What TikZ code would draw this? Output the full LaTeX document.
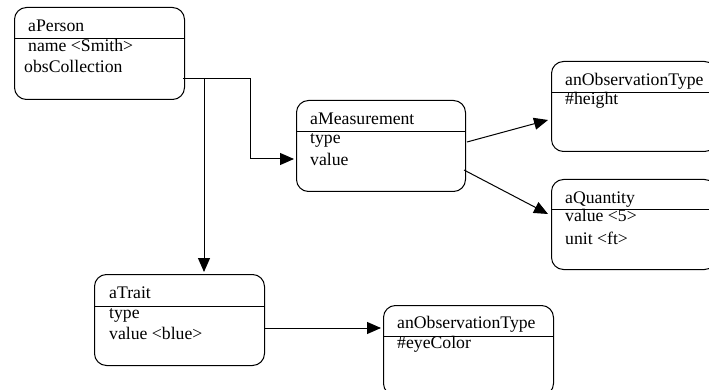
\documentclass[tikz,border=0pt]{standalone}
\usepackage{fontspec}
\setmainfont{Liberation Serif}
\usetikzlibrary{arrows.meta,calc}
\begin{document}
\begin{tikzpicture}[x=1pt,y=-1pt,
  box/.style={draw, line width=1pt, rounded corners=12pt, anchor=north west, inner sep=0pt},
  txt/.style={anchor=base west, inner sep=0pt, font=\fontsize{17.7}{20}\selectfont},
  arr/.style={line width=1pt, -{Triangle[length=14pt,width=12pt]}},
  ln/.style={line width=1pt}]
\useasboundingbox (0,0) rectangle (709,390);
\clip (0,0) rectangle (709,390);

% aPerson
\node[box, minimum width=170pt, minimum height=92pt] (person) at (14,7) {};
\draw[ln] ($(person.north west)+(0,32)$) -- ($(person.north east)+(0,32)$);
\node[txt] (personT) at ($(person.north west)+(14,25)$) {aPerson};
\node[txt] (personA) at ($(person.north west)+(14,45)$) {name <Smith>};
\node[txt] (personB) at ($(person.north west)+(10,66)$) {obsCollection};

% aMeasurement
\node[box, minimum width=169pt, minimum height=91pt] (meas) at (296,100) {};
\draw[ln] ($(meas.north west)+(0,32)$) -- ($(meas.north east)+(0,32)$);
\node[txt] (measT) at ($(meas.north west)+(14,25)$) {aMeasurement};
\node[txt] (measA) at ($(meas.north west)+(14,44)$) {type};
\node[txt] (measB) at ($(meas.north west)+(14,66)$) {value};

% anObservationType (height)
\node[box, minimum width=165pt, minimum height=90pt] (obsA) at (551,61) {};
\draw[ln] ($(obsA.north west)+(0,32)$) -- ($(obsA.north east)+(0,32)$);
\node[txt] (obsAT) at ($(obsA.north west)+(14,25)$) {anObservationType};
\node[txt] (obsAA) at ($(obsA.north west)+(14,44)$) {\#height};

% aQuantity
\node[box, minimum width=165pt, minimum height=90pt] (qty) at (551,179) {};
\draw[ln] ($(qty.north west)+(0,30)$) -- ($(qty.north east)+(0,30)$);
\node[txt] (qtyT) at ($(qty.north west)+(14,25)$) {aQuantity};
\node[txt] (qtyA) at ($(qty.north west)+(14,43)$) {value <5>};
\node[txt] (qtyB) at ($(qty.north west)+(14,65)$) {unit <ft>};

% aTrait
\node[box, minimum width=170pt, minimum height=91pt] (trait) at (94,274) {};
\draw[ln] ($(trait.north west)+(0,32)$) -- ($(trait.north east)+(0,32)$);
\node[txt] (traitT) at ($(trait.north west)+(15,24)$) {aTrait};
\node[txt] (traitA) at ($(trait.north west)+(15,44)$) {type};
\node[txt] (traitB) at ($(trait.north west)+(15,65)$) {value <blue>};

% anObservationType (eyeColor)
\node[box, minimum width=170pt, minimum height=90pt] (obsB) at (383,305) {};
\draw[ln] ($(obsB.north west)+(0,31)$) -- ($(obsB.north east)+(0,31)$);
\node[txt] (obsBT) at ($(obsB.north west)+(14,23)$) {anObservationType};
\node[txt] (obsBA) at ($(obsB.north west)+(14,43)$) {\#eyeColor};

% connectors
\coordinate (pout) at ($(person.north east)+(-2,72)$);
\coordinate (j) at ($(person.north east)+(19,72)$);
\coordinate (bend) at ($(person.north east)+(65,72)$);
\draw[arr, shorten >=2pt] (pout) -- (bend) |- ($(meas.north west)+(0,59)$);
\draw[arr, shorten >=2pt] (j) -- (j |- trait.north);
\draw[arr] ($(meas.north east)+(1,42)$) -- ($(obsA.north west)+(-3,59)$);
\draw[arr] ($(meas.north east)+(-2,70)$) -- ($(qty.north west)+(-3,35)$);
\draw[arr, shorten >=2pt] ($(trait.north east)+(0,54)$) -- ($(obsB.north west)+(0,23)$);
\end{tikzpicture}
\end{document}
